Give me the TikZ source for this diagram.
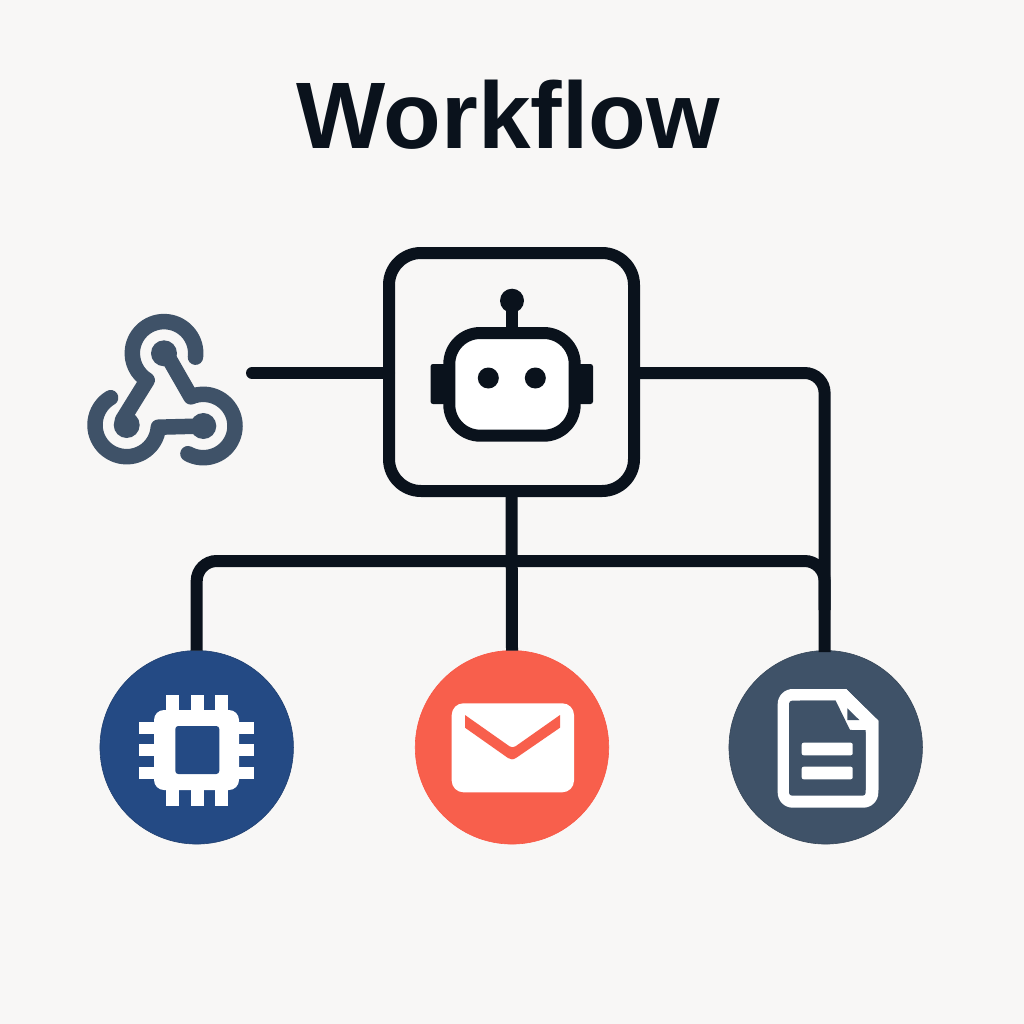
\documentclass[tikz,border=0pt]{standalone}
\usepackage{fontspec}
\setmainfont{Liberation Sans}
\definecolor{bgc}{HTML}{F8F7F6}
\definecolor{ink}{HTML}{0A121C}
\definecolor{slate}{HTML}{3F5268}
\definecolor{navy}{HTML}{244A84}
\definecolor{coral}{HTML}{F85F4C}
\tikzset{
  conn/.style={draw=ink,line width=12pt,rounded corners=20pt},
  hubbox/.style={draw=ink,line width=12pt,fill=bgc,rounded corners=32pt,minimum width=245pt,minimum height=238pt,inner sep=0pt,outer sep=0pt},
  disc/.style={circle,minimum size=193.5pt,inner sep=0pt,outer sep=0pt},
  hook/.style={draw=slate,line width=15.5pt,line cap=round,line join=round},
  dotm/.style={fill=slate},
}
\begin{document}
\begin{tikzpicture}[x=1pt,y=-1pt]
\useasboundingbox (0,0) rectangle (1024,1024);
\fill[bgc] (0,0) rectangle (1024,1024);
% title
\node[anchor=base,inner sep=0pt,font=\fontsize{94.5pt}{94.5pt}\selectfont\bfseries,text=ink] (title) at (508,149) {Workflow};
% nodes
\node[hubbox] (hub) at (511.5,372) {};
\node[disc,fill=navy,draw=navy!85!black,line width=0.6pt] (chip) at (196.7,747.3) {};
\node[disc,fill=coral,draw=coral!90!red,line width=0.6pt] (mail) at (512,747.3) {};
\node[disc,fill=slate,draw=slate!85!black,line width=0.6pt] (doc) at (825.7,747.3) {};
\coordinate (wh) at (252,373);
\coordinate (rt) at (824.6,373);
\coordinate (bl) at (196.7,561);
\coordinate (br) at (824.6,561);
\coordinate (brd) at (824.6,610);
\coordinate (dt) at (824.6,652);
% connectors
\draw[conn,line cap=round] (wh) -- (hub.west |- wh);
\draw[conn] (hub.east |- rt) -- (rt) -- (dt);
\draw[conn] (chip.north) -- (bl) -- (br) -- (brd);
\draw[conn] (hub.south) -- (mail.north);
% webhook icon
\coordinate (A) at (164,353.3);
\coordinate (B) at (126.7,425);
\coordinate (C) at (203.3,426);
\coordinate (Aend) at (166,353.3);
\coordinate (Bend) at (122.5,420);
\draw[hook] ([shift={(7:31.7)}]A) arc[start angle=7,end angle=-238,radius=31.7] -- (Bend);
\draw[hook] ([shift={(239.5:31.7)}]B) arc[start angle=239.5,end angle=4,radius=31.7] -- (C);
\draw[hook] ([shift={(119:31.7)}]C) arc[start angle=119,end angle=-113,radius=31.7] -- (Aend);
\fill[dotm] (A) circle[radius=13];
\fill[dotm] (B) circle[radius=13];
\fill[dotm] (C) circle[radius=13];
% robot
\fill[ink,rounded corners=2.5pt] (430.5,364) rectangle (450,404);
\fill[ink,rounded corners=2.5pt] (574,364) rectangle (593,404);
\fill[ink] (506,300) rectangle (518,330);
\fill[ink] (512,300.7) circle[radius=12];
\draw[ink,line width=12pt,fill=white,rounded corners=31pt] (449.3,333) rectangle (574.7,435.7);
\fill[ink] (488.3,378) circle[radius=10.5];
\fill[ink] (535.3,378) circle[radius=10.5];
% chip
\fill[white,rounded corners=10pt] (154,710) rectangle (239,790);
\foreach \x in {165.7,190.7,215}{\fill[white] (\x,695) rectangle ++(13,15.5);\fill[white] (\x,789.5) rectangle ++(13,16);}
\foreach \y in {721.7,744,766.7}{\fill[white] (139,\y) rectangle ++(15.5,12.3);\fill[white] (238.5,\y) rectangle ++(15.8,12.3);}
\fill[navy,rounded corners=3pt] (175.3,726) rectangle (219.3,774);
% mail
\fill[white,rounded corners=11.7pt] (451.7,703.3) rectangle (574,792.3);
\fill[coral] (465,715) -- (509.5,746.3) .. controls (511.5,747.6) and (513.5,747.6) .. (515.5,746.3) -- (560,715) -- (560,727.7) -- (516,758) .. controls (513,759.8) and (510.5,759.8) .. (508,758) -- (465,727.7) -- cycle;
% document
\fill[white,rounded corners=15pt] (846,689) -- (777.7,689) -- (777.7,807.7) -- (878.3,807.7) -- (878.3,721);
\fill[white] (790,689) -- (846,689) -- (878.3,720.5) -- (878.3,790) -- (790,790) -- cycle;
\fill[slate,rounded corners=3pt] (835.7,700.7) -- (789,700.7) -- (789,795.7) -- (865.7,795.7) -- (865.7,730) -- (850,730);
\fill[slate] (835.7,700.7) -- (800,700.7) -- (800,790) -- (865.7,790) -- (865.7,730) -- (852,730) .. controls (842,730) and (835.7,723) .. (835.7,713) -- cycle;
\fill[slate] (847.3,708.3) -- (859.3,720) -- (847.3,720) -- cycle;
\fill[white,rounded corners=2pt] (801.7,742.7) rectangle (852.7,755.3);
\fill[white,rounded corners=2pt] (801.7,766.7) rectangle (852.7,779.3);
\end{tikzpicture}
\end{document}
